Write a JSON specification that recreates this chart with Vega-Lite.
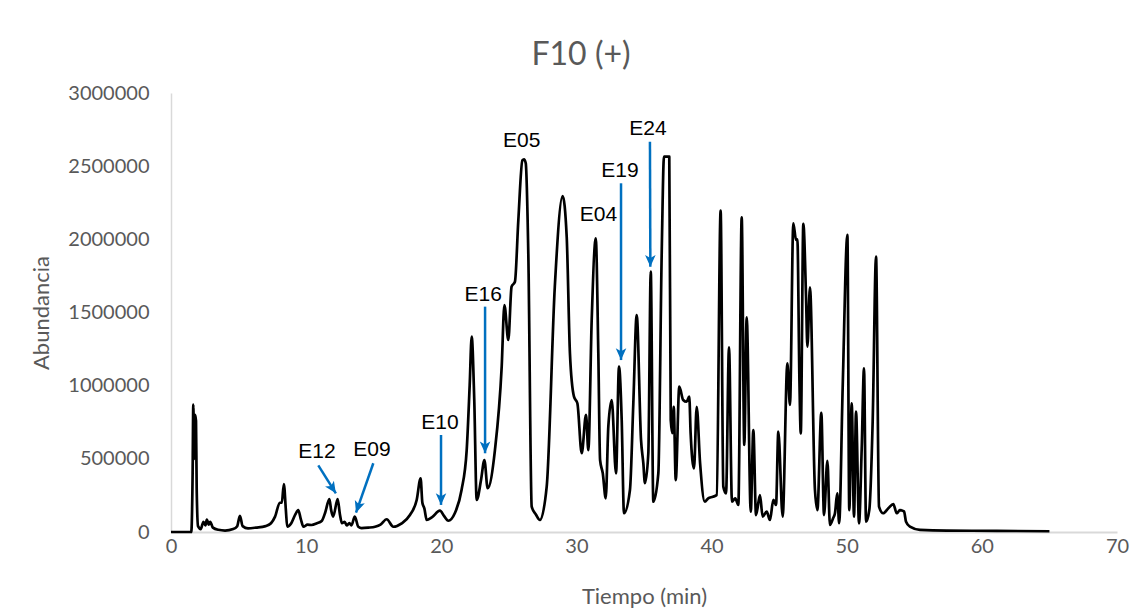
{
  "$schema": "https://vega.github.io/schema/vega-lite/v6.json",
  "width": 946,
  "height": 439,
  "autosize": "none",
  "padding": {"left": 171, "top": 93, "right": 29, "bottom": 79},
  "background": "white",
  "config": {"view": {"stroke": null}},
  "title": {"text": "F10 (+)", "font": "Lato", "fontSize": 32, "fontWeight": "normal", "color": "#595959", "anchor": "middle", "dx": -63, "offset": 11},
  "datasets": {
    "chrom": [
      {"t":0,"a":0},{"t":1.5,"a":0},{"t":1.6,"a":400000},{"t":1.65,"a":870000},{"t":1.72,"a":500000},{"t":1.78,"a":800000},{"t":1.85,"a":760000},{"t":1.9,"a":300000},{"t":2.0,"a":40000},{"t":2.2,"a":20000},{"t":2.4,"a":70000},{"t":2.55,"a":45000},{"t":2.65,"a":85000},{"t":2.8,"a":50000},{"t":2.9,"a":70000},{"t":3.1,"a":30000},{"t":3.5,"a":15000},{"t":4.0,"a":10000},{"t":4.6,"a":20000},{"t":4.9,"a":40000},{"t":5.1,"a":110000},{"t":5.3,"a":40000},{"t":5.7,"a":25000},{"t":6.3,"a":30000},{"t":7.0,"a":40000},{"t":7.4,"a":60000},{"t":7.7,"a":105000},{"t":8.05,"a":200000},{"t":8.2,"a":200000},{"t":8.35,"a":328000},{"t":8.5,"a":150000},{"t":8.6,"a":36000},{"t":8.9,"a":60000},{"t":9.2,"a":120000},{"t":9.42,"a":150000},{"t":9.6,"a":90000},{"t":9.8,"a":36000},{"t":10.1,"a":50000},{"t":10.4,"a":48000},{"t":10.8,"a":60000},{"t":11.15,"a":75000},{"t":11.4,"a":130000},{"t":11.72,"a":225000},{"t":11.85,"a":150000},{"t":12.0,"a":105000},{"t":12.33,"a":225000},{"t":12.5,"a":120000},{"t":12.65,"a":60000},{"t":12.85,"a":70000},{"t":13.0,"a":45000},{"t":13.2,"a":60000},{"t":13.35,"a":45000},{"t":13.6,"a":105000},{"t":13.86,"a":36000},{"t":14.1,"a":27000},{"t":14.6,"a":30000},{"t":15.1,"a":36000},{"t":15.5,"a":50000},{"t":15.96,"a":87000},{"t":16.45,"a":36000},{"t":17.07,"a":59000},{"t":17.68,"a":116000},{"t":18.18,"a":219000},{"t":18.47,"a":367000},{"t":18.6,"a":200000},{"t":18.75,"a":160000},{"t":18.92,"a":82000},{"t":19.3,"a":100000},{"t":19.9,"a":146000},{"t":20.2,"a":110000},{"t":20.52,"a":77000},{"t":21.0,"a":128000},{"t":21.5,"a":287000},{"t":21.88,"a":560000},{"t":22.1,"a":1000000},{"t":22.25,"a":1335000},{"t":22.44,"a":902000},{"t":22.62,"a":219000},{"t":22.94,"a":355000},{"t":23.19,"a":492000},{"t":23.43,"a":299000},{"t":23.97,"a":560000},{"t":24.47,"a":1130000},{"t":24.67,"a":1551000},{"t":24.96,"a":1312000},{"t":25.2,"a":1676000},{"t":25.45,"a":1710000},{"t":25.7,"a":2130000},{"t":26.0,"a":2540000},{"t":26.12,"a":2547000},{"t":26.25,"a":2520000},{"t":26.44,"a":1900000},{"t":26.69,"a":173000},{"t":27.0,"a":120000},{"t":27.3,"a":82000},{"t":27.8,"a":310000},{"t":28.4,"a":1676000},{"t":28.98,"a":2296000},{"t":29.28,"a":2018000},{"t":29.52,"a":1221000},{"t":29.82,"a":925000},{"t":30.07,"a":880000},{"t":30.39,"a":538000},{"t":30.71,"a":800000},{"t":30.88,"a":560000},{"t":31.13,"a":1449000},{"t":31.43,"a":2007000},{"t":31.62,"a":1221000},{"t":31.75,"a":492000},{"t":31.95,"a":401000},{"t":32.17,"a":230000},{"t":32.36,"a":720000},{"t":32.61,"a":902000},{"t":32.93,"a":401000},{"t":33.15,"a":1130000},{"t":33.35,"a":765000},{"t":33.52,"a":128000},{"t":33.96,"a":287000},{"t":34.21,"a":880000},{"t":34.46,"a":1483000},{"t":34.78,"a":629000},{"t":34.95,"a":470000},{"t":35.07,"a":333000},{"t":35.32,"a":538000},{"t":35.5,"a":1779000},{"t":35.69,"a":207000},{"t":36.06,"a":401000},{"t":36.31,"a":1904000},{"t":36.48,"a":2565000},{"t":36.87,"a":2565000},{"t":36.98,"a":765000},{"t":37.1,"a":676000},{"t":37.2,"a":856000},{"t":37.35,"a":355000},{"t":37.61,"a":993000},{"t":37.9,"a":902000},{"t":38.15,"a":890000},{"t":38.35,"a":925000},{"t":38.45,"a":676000},{"t":38.7,"a":435000},{"t":38.9,"a":856000},{"t":39.15,"a":470000},{"t":39.5,"a":207000},{"t":39.75,"a":230000},{"t":40.1,"a":241000},{"t":40.38,"a":253000},{"t":40.67,"a":2196000},{"t":40.87,"a":310000},{"t":41.07,"a":264000},{"t":41.29,"a":1262000},{"t":41.51,"a":207000},{"t":41.75,"a":230000},{"t":41.98,"a":185000},{"t":42.23,"a":2150000},{"t":42.42,"a":595000},{"t":42.6,"a":1467000},{"t":42.9,"a":139000},{"t":43.09,"a":697000},{"t":43.29,"a":116000},{"t":43.58,"a":253000},{"t":43.78,"a":105000},{"t":44.08,"a":139000},{"t":44.32,"a":82000},{"t":44.57,"a":219000},{"t":44.77,"a":185000},{"t":44.94,"a":686000},{"t":45.26,"a":105000},{"t":45.61,"a":1153000},{"t":45.8,"a":868000},{"t":46.05,"a":2110000},{"t":46.25,"a":1996000},{"t":46.35,"a":2000000},{"t":46.5,"a":1039000},{"t":46.6,"a":674000},{"t":46.79,"a":2105000},{"t":46.99,"a":1608000},{"t":47.09,"a":1267000},{"t":47.28,"a":1672000},{"t":47.65,"a":287000},{"t":47.83,"a":150000},{"t":48.12,"a":815000},{"t":48.32,"a":116000},{"t":48.57,"a":487000},{"t":48.76,"a":48000},{"t":49.0,"a":96000},{"t":49.13,"a":128000},{"t":49.3,"a":264000},{"t":49.44,"a":60000},{"t":49.7,"a":982000},{"t":50.05,"a":2030000},{"t":50.19,"a":150000},{"t":50.37,"a":880000},{"t":50.54,"a":105000},{"t":50.69,"a":822000},{"t":50.91,"a":59000},{"t":51.11,"a":572000},{"t":51.28,"a":1119000},{"t":51.43,"a":70000},{"t":51.67,"a":150000},{"t":51.92,"a":754000},{"t":52.17,"a":1882000},{"t":52.39,"a":173000},{"t":52.7,"a":128000},{"t":53.08,"a":162000},{"t":53.45,"a":191000},{"t":53.7,"a":128000},{"t":53.94,"a":150000},{"t":54.24,"a":141000},{"t":54.39,"a":70000},{"t":54.68,"a":36000},{"t":55.42,"a":14000},{"t":57.4,"a":9000},{"t":61.1,"a":8000},{"t":65.0,"a":5000}
    ],
    "arrows": [
      {"label":"E12","x1":10.9,"y1":455000,"x2":12.2,"y2":264000,"ang":327},
      {"label":"E09","x1":14.97,"y1":470000,"x2":13.69,"y2":132000,"ang":19},
      {"label":"E10","x1":19.98,"y1":663000,"x2":19.98,"y2":185000,"ang":0},
      {"label":"E16","x1":23.24,"y1":1540000,"x2":23.24,"y2":538000,"ang":0},
      {"label":"E19","x1":33.3,"y1":2383000,"x2":33.3,"y2":1175000,"ang":0},
      {"label":"E24","x1":35.44,"y1":2667000,"x2":35.47,"y2":1813000,"ang":0}
    ],
    "labels": [
      {"label":"E12","tx":10.8,"ty":547000},
      {"label":"E09","tx":14.87,"ty":560000},
      {"label":"E10","tx":19.9,"ty":745000},
      {"label":"E16","tx":23.1,"ty":1620000},
      {"label":"E05","tx":25.95,"ty":2675000},
      {"label":"E04","tx":31.63,"ty":2163000},
      {"label":"E19","tx":33.22,"ty":2467000},
      {"label":"E24","tx":35.3,"ty":2752000}
    ]
  },
  "encoding": {
    "x": {"type": "quantitative", "scale": {"domain": [0, 70], "nice": false},
      "axis": {"title": "Tiempo (min)", "values": [0,10,20,30,40,50,60,70], "grid": false, "ticks": false, "labelFlush": false,
        "domainColor": "#d9d9d9", "domainWidth": 2, "labelFont": "Lato", "labelFontSize": 20, "labelColor": "#595959",
        "labelPadding": 4, "titleFont": "Lato", "titleFontSize": 22, "titleFontWeight": "normal", "titleColor": "#595959", "titlePadding": 30}},
    "y": {"type": "quantitative", "scale": {"domain": [0, 3000000], "nice": false},
      "axis": {"title": "Abundancia", "values": [0,500000,1000000,1500000,2000000,2500000,3000000], "format": "d", "grid": false, "ticks": false,
        "domainColor": "#d9d9d9", "domainWidth": 1.5, "labelFont": "Lato", "labelFontSize": 20, "labelColor": "#595959",
        "labelPadding": 22, "titleFont": "Lato", "titleFontSize": 22, "titleFontWeight": "normal", "titleColor": "#595959", "titlePadding": 14}}
  },
  "layer": [
    {
      "data": {"name": "chrom"},
      "mark": {"type": "line", "color": "black", "strokeWidth": 2.7, "strokeJoin": "round", "interpolate": "monotone"},
      "encoding": {
        "x": {"field": "t"},
        "y": {"field": "a"}
      }
    },
    {
      "data": {"name": "arrows"},
      "mark": {"type": "rule", "color": "#0070C0", "strokeWidth": 2.5},
      "encoding": {
        "x": {"field": "x1"},
        "y": {"field": "y1"},
        "x2": {"field": "x2"},
        "y2": {"field": "y2"}
      }
    },
    {
      "data": {"name": "arrows"},
      "mark": {"type": "point", "shape": "M0,0L-0.45,-1L0,-0.75L0.45,-1Z", "filled": true, "color": "#0070C0", "opacity": 1, "size": 550},
      "encoding": {
        "x": {"field": "x2"},
        "y": {"field": "y2"},
        "angle": {"field": "ang", "type": "quantitative", "scale": null}
      }
    },
    {
      "data": {"name": "labels"},
      "mark": {"type": "text", "font": "Liberation Sans", "fontSize": 21, "color": "black", "align": "center", "baseline": "middle"},
      "encoding": {
        "x": {"field": "tx"},
        "y": {"field": "ty"},
        "text": {"field": "label"}
      }
    }
  ]
}
